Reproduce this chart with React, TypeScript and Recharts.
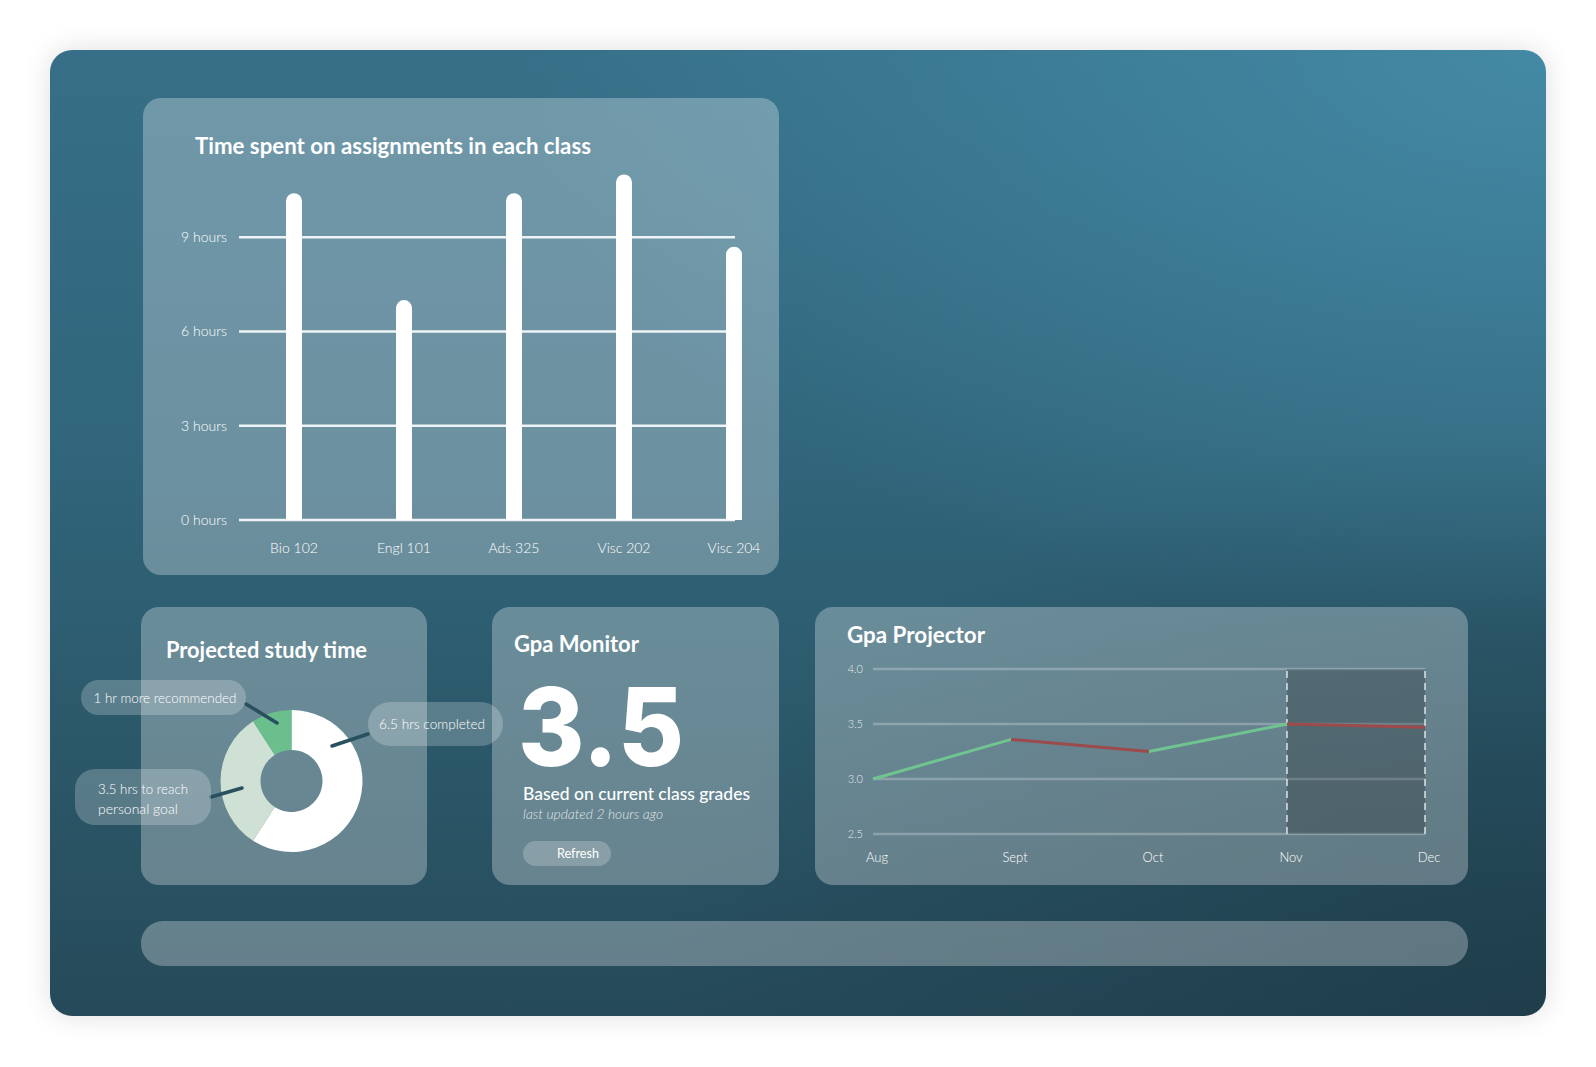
import React from "react";
import {
  BarChart,
  Bar,
  XAxis,
  YAxis,
  CartesianGrid,
  PieChart,
  Pie,
  Cell,
  LineChart,
  Line,
  ReferenceArea,
  ReferenceLine,
} from "recharts";

// time spent per class
const classes = ["Bio 102", "Engl 101", "Ads 325", "Visc 202", "Visc 204"];
const hoursSpent = [10.4, 7.0, 10.4, 11.0, 8.7];
const hourTicks = [0, 3, 6, 9];

// projected study time
const studyParts = ["completed", "goal", "recommended"];
const studyHours = [6.5, 3.5, 1];
const studyColors = ["#ffffff", "#cfe1d4", "#6bbf8d"];

// gpa projector
const months = ["Aug", "Sept", "Oct", "Nov", "Dec"];
const gpaValues = [3.0, 3.36, 3.25, 3.5, 3.47];
const gpaTicks = [2.5, 3.0, 3.5, 4.0];
const projectedStart = "Nov";
const projectedEnd = "Dec";
const currentGpa = "3.5";

const FONT = "Lato, 'Open Sans', sans-serif";
const UP = "#6fc48f";
const DOWN = "#9c4a4b";

const barData = classes.map((name, i) => ({ name, hours: hoursSpent[i] }));
const pieData = studyParts.map((name, i) => ({ name, value: studyHours[i] }));
const gpaData = months.map((month, i) => ({ month, gpa: gpaValues[i] }));

// green where the gpa goes up, red where it drops
const segColors = gpaValues
  .slice(1)
  .map((v, i) => (v >= gpaValues[i] ? UP : DOWN));

const card = (left: number, top: number, width: number, height: number, radius = 18) => ({
  position: "absolute" as const,
  left,
  top,
  width,
  height,
  borderRadius: radius,
  background: "rgba(255,255,255,0.29)",
});

function Pill({ x, y, w, h }: { x: number; y: number; w: number; h: number }) {
  return <rect x={x} y={y} width={w} height={h} rx={h / 2} fill="rgba(255,255,255,0.22)" />;
}

export default function App() {
  return (
    <div
      style={{
        position: "absolute",
        left: 0,
        top: 0,
        width: 1596,
        height: 1067,
        background: "#ffffff",
        fontFamily: FONT,
        overflow: "hidden",
      }}
    >
      <div
        style={{
          position: "absolute",
          left: 50,
          top: 50,
          width: 1496,
          height: 966,
          borderRadius: 22,
          boxShadow: "0 0 28px rgba(0,0,0,0.13)",
          background:
            "radial-gradient(70% 60% at 100% 0%, rgba(70,142,170,0.85) 0%, rgba(70,142,170,0) 100%), radial-gradient(60% 60% at 100% 100%, rgba(26,52,64,0.6) 0%, rgba(26,52,64,0) 100%), linear-gradient(180deg, #366f87 0%, #31667c 40%, #2b5869 72%, #264a5a 100%)",
        }}
      />

      <div style={card(143, 98, 636, 477)} />
      <div style={card(141, 607, 286, 278)} />
      <div style={card(492, 607, 287, 278)} />
      <div style={card(815, 607, 653, 278)} />
      <div style={card(141, 921, 1327, 45, 22)} />

      {/* bar chart */}
      <div style={{ position: "absolute", left: 143, top: 98 }}>
        <BarChart
          width={636}
          height={477}
          data={barData}
          margin={{ top: 45, right: 44, bottom: 25, left: 0 }}
        >
          <CartesianGrid
            vertical={false}
            horizontalValues={hourTicks}
            stroke="#eef3f5"
            strokeWidth={2.5}
          />
          <XAxis
            dataKey="name"
            height={30}
            axisLine={false}
            tickLine={false}
            tickSize={0}
            tickMargin={23}
            padding={{ left: 0, right: -54 }}
            tick={{ fill: "#ffffff", fontSize: 14, fontFamily: FONT, fontWeight: 300 }}
          />
          <YAxis
            width={96}
            domain={[0, 12]}
            ticks={hourTicks}
            axisLine={false}
            tickLine={false}
            tickSize={0}
            tickMargin={12}
            tickFormatter={(v) => `${v} hours`}
            tick={{ fill: "#ffffff", fontSize: 14, fontFamily: FONT, fontWeight: 300 }}
          />
          <Bar
            dataKey="hours"
            fill="#ffffff"
            barSize={16}
            radius={[8, 8, 0, 0]}
            isAnimationActive={false}
          />
        </BarChart>
      </div>

      {/* donut */}
      <div style={{ position: "absolute", left: 141, top: 607 }}>
        <PieChart width={286} height={278} margin={{ top: 0, right: 0, bottom: 0, left: 0 }}>
          <Pie
            data={pieData}
            dataKey="value"
            nameKey="name"
            cx={150.5}
            cy={174}
            innerRadius={31}
            outerRadius={71}
            startAngle={90}
            endAngle={-270}
            stroke="none"
            isAnimationActive={false}
          >
            {pieData.map((d, i) => (
              <Cell key={d.name} fill={studyColors[i]} />
            ))}
          </Pie>
        </PieChart>
      </div>

      {/* gpa projector */}
      <div style={{ position: "absolute", left: 815, top: 608 }}>
        <LineChart
          width={653}
          height={277}
          data={gpaData}
          margin={{ top: 61, right: 43, bottom: 21, left: 0 }}
        >
          <defs>
            <linearGradient id="gpaStroke" x1="0" y1="0" x2="1" y2="0">
              {segColors.map((c, i) => (
                <React.Fragment key={i}>
                  <stop offset={i / segColors.length} stopColor={c} />
                  <stop offset={(i + 1) / segColors.length} stopColor={c} />
                </React.Fragment>
              ))}
            </linearGradient>
          </defs>
          <CartesianGrid
            vertical={false}
            horizontalValues={gpaTicks}
            stroke="rgba(255,255,255,0.25)"
            strokeWidth={2.5}
          />
          <XAxis
            dataKey="month"
            height={30}
            axisLine={false}
            tickLine={false}
            tickSize={0}
            tickMargin={19}
            tick={{ fill: "#ffffff", fontSize: 13, fontFamily: FONT, fontWeight: 300, dx: 4 }}
          />
          <YAxis
            width={58}
            domain={[2.5, 4]}
            ticks={gpaTicks}
            axisLine={false}
            tickLine={false}
            tickSize={0}
            tickMargin={10}
            tickFormatter={(v) => Number(v).toFixed(1)}
            tick={{ fill: "rgba(255,255,255,0.85)", fontSize: 11, fontFamily: FONT, fontWeight: 300 }}
          />
          <ReferenceArea
            x1={projectedStart}
            x2={projectedEnd}
            fill="#000000"
            fillOpacity={0.2}
            stroke="none"
          />
          <ReferenceLine x={projectedStart} stroke="rgba(255,255,255,0.8)" strokeWidth={1.5} strokeDasharray="7 5" />
          <ReferenceLine x={projectedEnd} stroke="rgba(255,255,255,0.8)" strokeWidth={1.5} strokeDasharray="7 5" />
          <Line
            type="linear"
            dataKey="gpa"
            stroke="url(#gpaStroke)"
            strokeWidth={3}
            dot={false}
            activeDot={false}
            isAnimationActive={false}
          />
        </LineChart>
      </div>

      {/* titles, callouts and text */}
      <svg
        width={1596}
        height={1067}
        style={{ position: "absolute", left: 0, top: 0, pointerEvents: "none" }}
        fontFamily={FONT}
      >
        <g fill="#ffffff" fontWeight={700} fontSize={22}>
          <text x={195} y={154} textLength={396} lengthAdjust="spacingAndGlyphs">
            Time spent on assignments in each class
          </text>
          <text x={166} y={658} textLength={201} lengthAdjust="spacingAndGlyphs">
            Projected study time
          </text>
          <text x={514} y={651.5} textLength={125} lengthAdjust="spacingAndGlyphs">
            Gpa Monitor
          </text>
          <text x={847} y={643} textLength={138} lengthAdjust="spacingAndGlyphs">
            Gpa Projector
          </text>
        </g>

        {/* callouts */}
        <g stroke="#29505f" strokeWidth={3.5} strokeLinecap="round">
          <line x1={246} y1={704} x2={277} y2={723} />
          <line x1={368} y1={734} x2={332} y2={746} />
          <line x1={211} y1={797} x2={242} y2={788} />
        </g>
        <Pill x={81} y={680} w={165} h={35} />
        <Pill x={368} y={702} w={135} h={44} />
        <rect x={75} y={769} width={136} height={56} rx={20} fill="rgba(255,255,255,0.22)" />
        <g fill="#ffffff" fontSize={14} fontWeight={300}>
          <text x={93.5} y={703} textLength={143} lengthAdjust="spacingAndGlyphs">
            1 hr more recommended
          </text>
          <text x={379} y={729} textLength={106} lengthAdjust="spacingAndGlyphs">
            6.5 hrs completed
          </text>
          <text x={98} y={794} textLength={90} lengthAdjust="spacingAndGlyphs">
            3.5 hrs to reach
          </text>
          <text x={98} y={814}>
            personal goal
          </text>
        </g>

        {/* gpa monitor */}
        <text
          x={518}
          y={766}
          fill="#ffffff"
          fontFamily="Inter, Lato, sans-serif"
          fontWeight={800}
          fontSize={109}
          textLength={166}
          lengthAdjust="spacingAndGlyphs"
        >
          {currentGpa}
        </text>
        <text x={523} y={799.5} fill="#ffffff" fontSize={18} fontWeight={500} textLength={227} lengthAdjust="spacingAndGlyphs">
          Based on current class grades
        </text>
        <text
          x={523}
          y={819}
          fill="rgba(255,255,255,0.8)"
          fontSize={14}
          fontWeight={300}
          fontStyle="italic"
          textLength={140}
          lengthAdjust="spacingAndGlyphs"
        >
          last updated 2 hours ago
        </text>
        <rect x={523} y={841} width={88} height={25} rx={12.5} fill="rgba(255,255,255,0.22)" />
        <text x={557} y={858} fill="#ffffff" fontSize={14} fontWeight={400} textLength={42} lengthAdjust="spacingAndGlyphs">
          Refresh
        </text>
      </svg>
    </div>
  );
}
